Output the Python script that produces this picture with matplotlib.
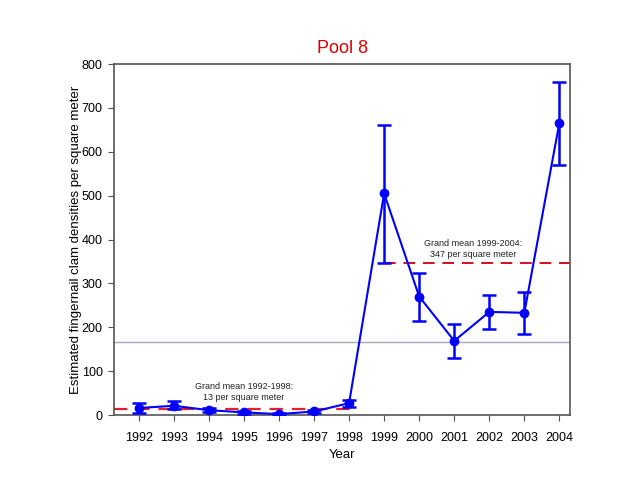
import matplotlib
matplotlib.use("Agg")
import matplotlib.pyplot as plt

plt.rcParams['font.family'] = ['Liberation Sans', 'DejaVu Sans']

years = [1992, 1993, 1994, 1995, 1996, 1997, 1998, 1999, 2000, 2001, 2002, 2003, 2004]
density = [16, 21, 11, 6, 2, 8, 27, 505, 270, 169, 235, 233, 666]
upper = [27, 33, 17, 9, 4, 12, 34, 662, 324, 208, 274, 281, 760]
lower = [5, 13, 6, 3, 1, 4, 19, 347, 215, 131, 197, 185, 570]
mean_early = 13
mean_late = 347
overall_mean = 166

fig = plt.figure(figsize=(6.4, 4.95), dpi=100)
ax = fig.add_axes([0.178, 0.1616, 0.713, 0.709])

yerr = [[d - l for d, l in zip(density, lower)], [u - d for d, u in zip(density, upper)]]
ax.axhline(overall_mean, color='#a8a8c0', lw=1, zorder=1)
ax.plot([1991.29, 1998.15], [mean_early, mean_early], color='#e0202a', lw=1.6, ls=(0, (6, 4)), zorder=2)
ax.plot([1999, 2004.35], [mean_late, mean_late], color='#d01020', lw=1.4, ls=(0, (6, 4)), zorder=2)
ax.errorbar(years, density, yerr=yerr, color='#0000ff', lw=1.5, marker='o', ms=6,
            capsize=5, capthick=1.8, elinewidth=1.8, zorder=3)

ax.text(1995.0, 52, 'Grand mean 1992-1998:\n13 per square meter', ha='center', va='center',
        fontsize=6.5, color='#222222')
ax.text(2001.55, 378, 'Grand mean 1999-2004:\n347 per square meter', ha='center', va='center',
        fontsize=6.5, color='#222222')

ax.set_xlim(1991.29, 2004.31)
ax.set_ylim(0, 800)
ax.set_xticks(years)
ax.set_yticks(range(0, 801, 100))
ax.tick_params(labelsize=9, direction='out', length=4, color='#555555', top=False, right=False)
ax.tick_params(axis='x', pad=8)
ax.tick_params(axis='y', pad=4)
for s in ax.spines.values():
    s.set_color('#555555')
    s.set_linewidth(1.2)
ax.set_xlabel('Year', fontsize=9.5, labelpad=4)
ax.set_ylabel('Estimated fingernail clam densities per square meter', fontsize=9.5, labelpad=0)
ax.set_title('Pool 8', color='#dd0000', fontsize=13, pad=8)

fig.savefig('out.png', dpi=100)
